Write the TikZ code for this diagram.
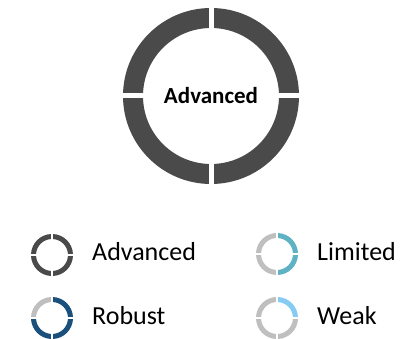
\documentclass[tikz,border=0pt]{standalone}
\usepackage{fontspec}
\setmainfont{Carlito}
\usetikzlibrary{positioning}
\definecolor{advgray}{HTML}{4A4A4A}
\definecolor{offgray}{HTML}{BFBFBF}
\definecolor{robblue}{HTML}{1B4F7C}
\definecolor{limteal}{HTML}{5FB2C4}
\definecolor{weakblue}{HTML}{85CBF2}

% ring of four quarters: center, mid radius, width, gap, colours (TR,TL,BL,BR)
\newcommand{\quadring}[8]{%
  \foreach \a/\c in {0/#5,90/#6,180/#7,270/#8}{
    \draw[line width=#3pt,\c] ([shift={(\a:#2)}]#1) arc[start angle=\a,delta angle=90,radius=#2];
  }
  \draw[white,line width=#4pt] ([xshift=-#2pt-#3pt]#1) -- ([xshift=#2pt+#3pt]#1);
  \draw[white,line width=#4pt] ([yshift=-#2pt-#3pt]#1) -- ([yshift=#2pt+#3pt]#1);
}

\tikzset{
  legtext/.style={anchor=base west,inner sep=0pt,font=\fontsize{26}{31}\selectfont},
  maintext/.style={inner sep=0pt,font=\bfseries\fontsize{23}{28}\selectfont}
}

\begin{document}
\begin{tikzpicture}[x=1pt,y=1pt]
    \useasboundingbox (0,0) rectangle (420,339);

    \coordinate (M) at (211,243);
    \coordinate (IA) at (52,84);
    \coordinate (IR) at (52,21);
    \coordinate (IL) at (277,85);
    \coordinate (IW) at (277,21);

    % main ring
    \quadring{M}{78}{20}{5}{advgray}{advgray}{advgray}{advgray}
    \node[maintext] (title) at (M) {Advanced};

    % legend
    \quadring{IA}{18.5}{5}{2.5}{advgray}{advgray}{advgray}{advgray}
    \quadring{IR}{18.5}{5}{2.5}{robblue}{offgray}{robblue}{robblue}
    \quadring{IL}{18.5}{5}{2.5}{limteal}{offgray}{offgray}{limteal}
    \quadring{IW}{18.5}{5}{2.5}{weakblue}{offgray}{offgray}{offgray}

    \node[legtext] (ladv) at (92,78.3) {Advanced};
    \node[legtext] (lrob) at (92,14) {Robust};
    \node[legtext] (llim) at (317,78.3) {Limited};
    \node[legtext] (lweak) at (317,14) {Weak};
\end{tikzpicture}
\end{document}
